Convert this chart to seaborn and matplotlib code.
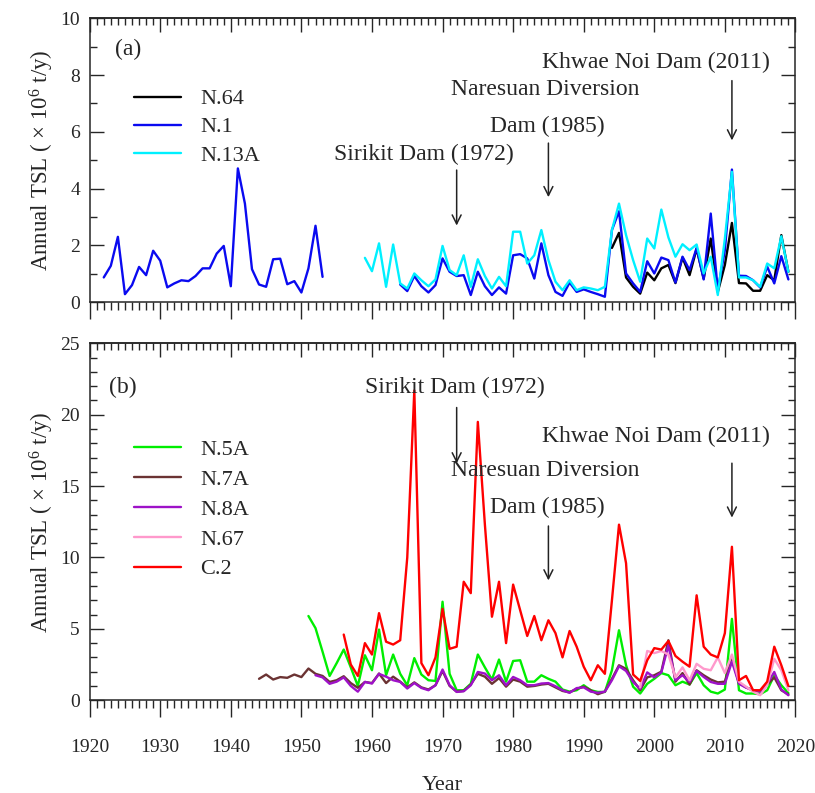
import numpy as np
import pandas as pd
import matplotlib
matplotlib.use('Agg')
import matplotlib.pyplot as plt
import seaborn as sns
from matplotlib.ticker import MultipleLocator

# ---- data (annual TSL, x 10^6 t/y) ----
# panel (a)
n64_start = 1994
n64 = [1.91, 2.44, 0.87, 0.54, 0.30, 1.04, 0.77, 1.19, 1.31, 0.67, 1.57, 0.95, 1.88,
       0.83, 2.24, 0.36, 1.31, 2.79, 0.67, 0.66, 0.40, 0.40, 0.95, 0.77, 2.36, 1.07]

n1_early_start = 1922
n1_early = [0.87, 1.28, 2.30, 0.28, 0.60, 1.24, 0.95, 1.81, 1.46, 0.52, 0.66, 0.77,
            0.74, 0.92, 1.19, 1.19, 1.71, 1.98, 0.56, 4.71, 3.47, 1.16, 0.62, 0.54,
            1.51, 1.53, 0.63, 0.74, 0.34, 1.19, 2.69, 0.89]
n1_late_start = 1964
n1_late = [0.62, 0.39, 0.92, 0.56, 0.34, 0.60, 1.54, 1.07, 0.92, 0.95, 0.25, 1.07,
           0.56, 0.25, 0.52, 0.30, 1.65, 1.69, 1.54, 0.83, 2.07, 0.95, 0.36, 0.22,
           0.69, 0.36, 0.45, 0.36, 0.28, 0.19, 2.54, 3.20, 1.01, 0.66, 0.36, 1.44,
           1.01, 1.57, 1.48, 0.69, 1.60, 1.13, 1.91, 0.80, 3.12, 0.42, 1.83, 4.67,
           0.93, 0.92, 0.77, 0.52, 1.25, 0.66, 1.62, 0.80]

n13a_start = 1959
n13a = [1.56, 1.09, 2.07, 0.54, 2.03, 0.66, 0.48, 1.01, 0.77, 0.56, 0.80, 1.98,
        1.13, 0.95, 1.65, 0.54, 1.51, 0.92, 0.48, 0.89, 0.56, 2.48, 2.48, 1.36,
        1.65, 2.54, 1.48, 0.72, 0.42, 0.77, 0.42, 0.52, 0.48, 0.42, 0.54, 2.54,
        3.47, 2.36, 1.48, 0.72, 2.24, 1.89, 3.26, 2.28, 1.60, 2.04, 1.83, 2.03,
        1.01, 1.60, 0.25, 2.24, 4.59, 0.87, 0.87, 0.77, 0.54, 1.36, 1.19, 2.32, 1.07]

# panel (b)
n5a_start = 1951
n5a = [5.90, 5.05, 3.40, 1.70, 2.60, 3.55, 2.30, 1.00, 3.15, 2.10, 4.95, 1.75,
       3.20, 1.85, 1.05, 2.95, 1.80, 1.40, 1.35, 6.90, 1.85, 0.70, 0.70, 1.15,
       3.20, 2.30, 1.45, 2.85, 1.30, 2.75, 2.80, 1.30, 1.30, 1.75, 1.50, 1.30,
       0.75, 0.60, 0.70, 1.05, 0.70, 0.58, 0.58, 2.10, 4.90, 2.45, 0.95, 0.47,
       1.15, 1.50, 1.90, 1.75, 1.05, 1.30, 1.10, 1.90, 1.05, 0.60, 0.47, 0.75,
       5.70, 0.70, 0.47, 0.47, 0.42, 0.70, 1.75, 1.05, 0.50]

n7a_start = 1944
n7a = [1.50, 1.80, 1.45, 1.62, 1.57, 1.80, 1.62, 2.22, 1.85, 1.70, 1.28, 1.40,
       1.68, 1.20, 0.87, 1.28, 1.20, 1.87, 1.20, 1.65, 1.30, 0.90, 1.25, 0.90,
       0.75, 1.05, 2.05, 1.00, 0.60, 0.65, 1.10, 1.85, 1.65, 1.15, 1.55, 0.95,
       1.45, 1.30, 0.95, 1.00, 1.10, 1.15, 0.90, 0.65, 0.55, 0.80, 0.95, 0.70,
       0.42, 0.60, 1.50, 2.45, 2.20, 1.40, 0.70, 1.60, 1.75, 2.00, 4.20, 1.30,
       1.90, 1.10, 2.10, 1.75, 1.45, 1.25, 1.30, 2.90, 1.20, 0.90, 0.70, 0.60,
       1.10, 1.60, 0.70, 0.40]

n8a_start = 1952
n8a = [1.75, 1.60, 1.15, 1.30, 1.60, 1.00, 0.60, 1.28, 1.17, 1.85, 1.65, 1.40,
       1.28, 0.82, 1.20, 0.86, 0.70, 1.05, 2.15, 1.05, 0.58, 0.63, 1.05, 1.98,
       1.87, 1.40, 1.75, 1.05, 1.63, 1.40, 1.05, 1.05, 1.17, 1.20, 0.98, 0.70,
       0.52, 0.85, 0.90, 0.60, 0.52, 0.60, 1.40, 2.38, 2.05, 1.28, 0.80, 1.95,
       1.60, 1.95, 3.85, 1.40, 1.75, 1.28, 2.05, 1.63, 1.28, 1.15, 1.15, 2.70,
       1.15, 0.88, 0.70, 0.62, 1.15, 1.98, 0.75, 0.35]

n67_start = 1998
n67 = [0.90, 3.45, 3.30, 3.45, 3.20, 1.60, 2.30, 1.40, 2.55, 2.20, 2.10, 3.00,
       1.90, 3.20, 1.30, 0.95, 0.60, 0.35, 1.05, 2.90, 2.10, 0.70]

c2_start = 1956
c2 = [4.60, 2.50, 1.70, 4.00, 3.20, 6.10, 4.10, 3.90, 4.20, 10.0, 21.7, 2.60,
      1.75, 3.00, 6.40, 3.60, 3.75, 8.30, 7.50, 19.5, 12.3, 5.85, 8.30, 4.00,
      8.10, 6.30, 4.50, 5.90, 4.20, 5.60, 4.70, 3.00, 4.85, 3.75, 2.35, 1.40,
      2.45, 1.85, 7.00, 12.3, 9.60, 1.80, 1.35, 2.80, 3.65, 3.55, 4.15, 3.10,
      2.70, 2.35, 7.35, 3.75, 3.20, 3.00, 4.70, 10.75, 1.40, 1.70, 0.70, 0.70,
      1.30, 3.75, 2.45, 1.00]


def series(name, start, values, seg=0):
    return pd.DataFrame({'Year': np.arange(start, start + len(values)),
                         'TSL': values, 'Station': name, 'seg': f'{name}-{seg}'})


df_a = pd.concat([series('N.64', n64_start, n64),
                  series('N.1', n1_early_start, n1_early, 0),
                  series('N.1', n1_late_start, n1_late, 1),
                  series('N.13A', n13a_start, n13a)], ignore_index=True)
df_b = pd.concat([series('N.5A', n5a_start, n5a),
                  series('N.7A', n7a_start, n7a),
                  series('N.8A', n8a_start, n8a),
                  series('N.67', n67_start, n67),
                  series('C.2', c2_start, c2)], ignore_index=True)

order_a = ['N.64', 'N.1', 'N.13A']
pal_a = {'N.64': '#000000', 'N.1': '#0a0af0', 'N.13A': '#00f0ff'}
order_b = ['N.5A', 'N.7A', 'N.8A', 'N.67', 'C.2']
pal_b = {'N.5A': '#00ee00', 'N.7A': '#6b3333', 'N.8A': '#9e12c8',
         'N.67': '#ff99cc', 'C.2': '#ff0000'}

sns.set_style('ticks')
plt.rcParams['font.family'] = ['Liberation Serif', 'DejaVu Serif']
plt.rcParams['mathtext.fontset'] = 'custom'
plt.rcParams['mathtext.rm'] = 'Liberation Serif'
plt.rcParams['mathtext.it'] = 'Liberation Serif:italic'

fig = plt.figure(figsize=(8.15, 7.93), dpi=100)
ax1 = fig.add_axes([0.110, 0.619, 0.866, 0.358])
ax2 = fig.add_axes([0.110, 0.117, 0.866, 0.450])

sns.lineplot(data=df_a, x='Year', y='TSL', hue='Station', hue_order=order_a,
             palette=pal_a, units='seg', estimator=None, lw=1.7, ax=ax1)
sns.lineplot(data=df_b, x='Year', y='TSL', hue='Station', hue_order=order_b,
             palette=pal_b, units='seg', estimator=None, lw=1.7, ax=ax2)

ylab = 'Annual TSL ( $\\times$ 10$^{6}$ t/y)'
for ax, top, major, ly, ls in [(ax1, 10, 2, 0.822, 0.34), (ax2, 25, 5, 0.787, 0.42)]:
    ax.set_xlim(1920, 2020)
    ax.set_ylim(0, top)
    ax.xaxis.set_major_locator(MultipleLocator(10))
    ax.xaxis.set_minor_locator(MultipleLocator(1))
    ax.yaxis.set_major_locator(MultipleLocator(major))
    ax.yaxis.set_minor_locator(MultipleLocator(1))
    # y ticks inside on both sides, bottom x ticks outside
    ax.tick_params(axis='y', which='both', direction='in', right=True,
                   labelsize=14, width=1, pad=7)
    ax.tick_params(axis='y', which='major', length=10)
    ax.tick_params(axis='y', which='minor', length=5)
    ax.tick_params(axis='x', which='both', direction='out', top=False,
                   labelsize=14, width=1, pad=16)
    ax.tick_params(axis='x', which='major', length=12)
    ax.tick_params(axis='x', which='minor', length=6)
    # top ticks point inward
    sec = ax.secondary_xaxis('top')
    sec.xaxis.set_major_locator(MultipleLocator(10))
    sec.xaxis.set_minor_locator(MultipleLocator(1))
    sec.tick_params(which='both', direction='in', labeltop=False, width=1)
    sec.tick_params(which='major', length=10)
    sec.tick_params(which='minor', length=5)
    for sp in list(ax.spines.values()) + list(sec.spines.values()):
        sp.set_linewidth(1.1)
    ax.set_ylabel(ylab, fontsize=16.5)
    ax.yaxis.set_label_coords(-0.047, 0.5)
    h, l = ax.get_legend_handles_labels()
    ax.legend(h, l, loc='upper left', frameon=False, fontsize=16,
              handlelength=2.1, handletextpad=0.85, labelspacing=ls,
              bbox_to_anchor=(0.035, ly))

ax1.set_xlabel('')
ax1.tick_params(labelbottom=False)
ax2.set_xlabel('Year', fontsize=16, labelpad=14)

txt = dict(fontsize=17, ha='center', va='center')
arr = dict(arrowstyle='->', color='#222222', lw=1.1, mutation_scale=16)

ax1.text(1925.5, 8.9, '(a)', **txt)
ax1.text(2000.3, 8.45, 'Khwae Noi Dam (2011)', **txt)
ax1.text(1984.5, 7.5, 'Naresuan Diversion', **txt)
ax1.text(1984.9, 6.2, 'Dam (1985)', **txt)
ax1.text(1967.3, 5.2, 'Sirikit Dam (1972)', **txt)
ax1.annotate('', xy=(2011, 5.6), xytext=(2011, 7.9), arrowprops=arr)
ax1.annotate('', xy=(1985, 3.6), xytext=(1985, 5.7), arrowprops=arr)
ax1.annotate('', xy=(1972, 2.6), xytext=(1972, 4.75), arrowprops=arr)

ax2.text(1924.7, 21.9, '(b)', **txt)
ax2.text(1971.8, 21.9, 'Sirikit Dam (1972)', **txt)
ax2.text(2000.3, 18.5, 'Khwae Noi Dam (2011)', **txt)
ax2.text(1984.5, 16.1, 'Naresuan Diversion', **txt)
ax2.text(1984.9, 13.5, 'Dam (1985)', **txt)
ax2.annotate('', xy=(1972, 16.4), xytext=(1972, 20.7), arrowprops=arr)
ax2.annotate('', xy=(2011, 12.6), xytext=(2011, 16.8), arrowprops=arr)
ax2.annotate('', xy=(1985, 8.2), xytext=(1985, 12.4), arrowprops=arr)

fig.savefig('out.png', dpi=100)
